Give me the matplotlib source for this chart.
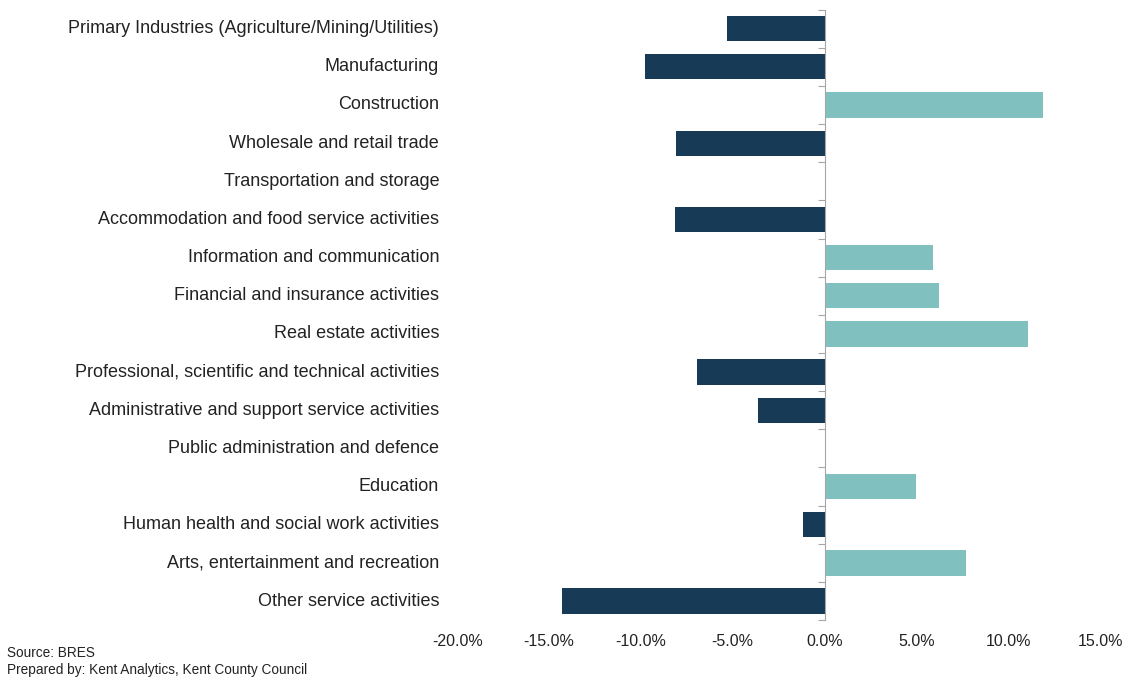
import matplotlib
matplotlib.use('Agg')
import matplotlib.pyplot as plt
import matplotlib.transforms as mtransforms
from matplotlib.ticker import FuncFormatter
import numpy as np

plt.rcParams['font.family'] = ['Liberation Sans', 'DejaVu Sans']

# Data
sectors = [
    'Primary Industries (Agriculture/Mining/Utilities)',
    'Manufacturing',
    'Construction',
    'Wholesale and retail trade',
    'Transportation and storage',
    'Accommodation and food service activities',
    'Information and communication',
    'Financial and insurance activities',
    'Real estate activities',
    'Professional, scientific and technical activities',
    'Administrative and support service activities',
    'Public administration and defence',
    'Education',
    'Human health and social work activities',
    'Arts, entertainment and recreation',
    'Other service activities',
]
change = [-5.3, -9.75, 11.9, -8.1, 0.0, -8.15, 5.9, 6.25, 11.1,
          -6.95, -3.6, 0.0, 5.0, -1.2, 7.7, -14.3]

neg_color = '#173A56'
pos_color = '#80C1C0'

fig = plt.figure(figsize=(11.26, 6.8), dpi=100)
ax = fig.add_axes([0.406, 0.088, 0.571, 0.898])

y = np.arange(len(sectors))
colors = [pos_color if v > 0 else neg_color for v in change]
ax.barh(y, change, height=0.66, color=colors)

ax.set_ylim(len(sectors) - 0.5, -0.5)
ax.set_xlim(-20, 15)
ax.set_xticks(np.arange(-20, 16, 5))
ax.xaxis.set_major_formatter(FuncFormatter(lambda v, p: f'{v:.1f}%'))
ax.tick_params(axis='x', length=0, pad=10, labelsize=11.5, colors='#222222')

# left spine sits on zero, ticks between categories
for s in ['top', 'right', 'bottom']:
    ax.spines[s].set_visible(False)
ax.spines['left'].set_position(('data', 0))
ax.spines['left'].set_color('#A6A6A6')
ax.set_yticks(np.arange(-0.5, len(sectors), 1))
ax.set_yticklabels([])
ax.tick_params(axis='y', length=5, color='#A6A6A6', direction='out')

# category labels on the left of the plot
trans = mtransforms.blended_transform_factory(ax.transAxes, ax.transData)
for i, name in enumerate(sectors):
    ax.text(-0.028, i, name, transform=trans, ha='right', va='center',
            fontsize=13, color='#222222')

fig.text(0.006, 0.040, 'Source: BRES', fontsize=9.8, color='#222222', va='center')
fig.text(0.006, 0.015, 'Prepared by: Kent Analytics, Kent County Council',
         fontsize=9.8, color='#222222', va='center')

fig.savefig('out.png', dpi=100)
